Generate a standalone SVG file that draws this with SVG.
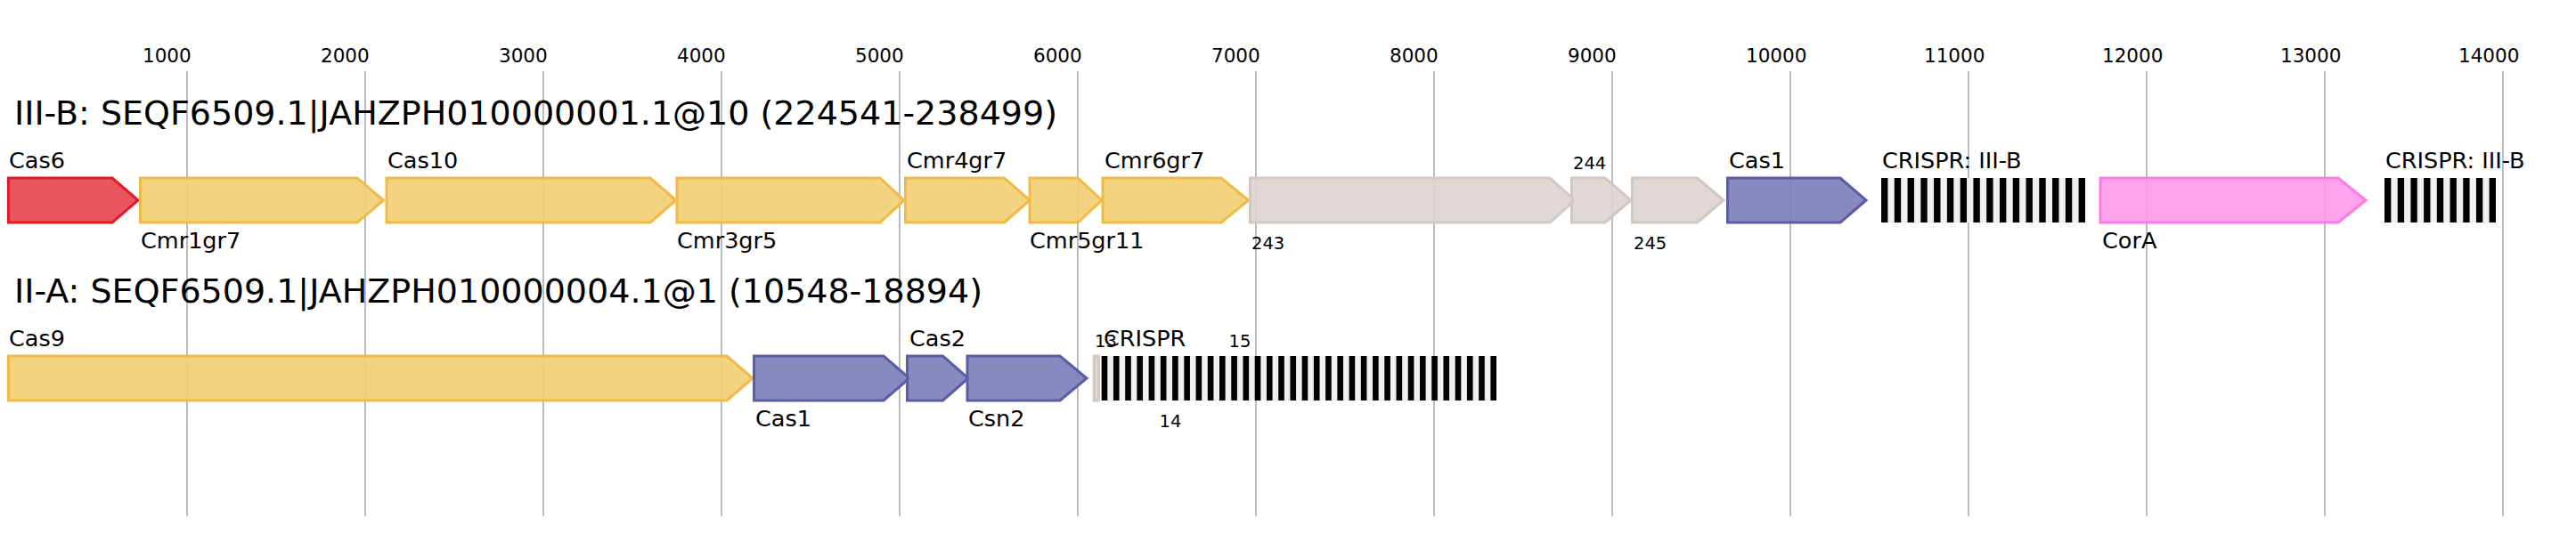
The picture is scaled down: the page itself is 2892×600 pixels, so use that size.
<svg xmlns="http://www.w3.org/2000/svg" width="2892" height="600" viewBox="0 0 2892 600">
<style>
text{font-family:"DejaVu Sans","Liberation Sans",sans-serif;fill:#000}
.tick{font-size:21.5px;fill:#888}
.title{font-size:38px}
.lbl{font-size:25.5px}
.sm{font-size:19.5px}
.grid{stroke:#bdbdbd;stroke-width:2}
.gene{stroke-width:3;stroke-linejoin:miter}
.red{fill:#e6464f;stroke:#e31a2a;fill-opacity:.92}
.yel{fill:#f2cd72;stroke:#efbb44;fill-opacity:.9}
.gry{fill:#dcd4cf;stroke:#d3c7bf;fill-opacity:.9}
.pur{fill:#7b7db8;stroke:#5a5ca6;fill-opacity:.9}
.pnk{fill:#ff99ea;stroke:#ff7ae2;fill-opacity:.9}
.sp{fill:#f0f0f0}
.rp{fill:#000}
</style>
<g id="axis">
<g class="grid">
<line x1="210" y1="80" x2="210" y2="580"/><line x1="410" y1="80" x2="410" y2="580"/><line x1="610" y1="80" x2="610" y2="580"/><line x1="810" y1="80" x2="810" y2="580"/><line x1="1010" y1="80" x2="1010" y2="580"/><line x1="1210" y1="80" x2="1210" y2="580"/><line x1="1410" y1="80" x2="1410" y2="580"/><line x1="1610" y1="80" x2="1610" y2="580"/><line x1="1810" y1="80" x2="1810" y2="580"/><line x1="2010" y1="80" x2="2010" y2="580"/><line x1="2210" y1="80" x2="2210" y2="580"/><line x1="2410" y1="80" x2="2410" y2="580"/><line x1="2610" y1="80" x2="2610" y2="580"/><line x1="2810" y1="80" x2="2810" y2="580"/>
</g>
<g class="tick">
<text x="160" y="70">1000</text><text x="360" y="70">2000</text><text x="560" y="70">3000</text><text x="760" y="70">4000</text><text x="960" y="70">5000</text><text x="1160" y="70">6000</text><text x="1360" y="70">7000</text><text x="1560" y="70">8000</text><text x="1760" y="70">9000</text><text x="1960" y="70">10000</text><text x="2160" y="70">11000</text><text x="2360" y="70">12000</text><text x="2560" y="70">13000</text><text x="2760" y="70">14000</text>
</g>
</g>
<g id="titles">
<text class="title" x="16" y="140">III-B: SEQF6509.1|JAHZPH010000001.1@10 (224541-238499)</text>
<text class="title" x="16" y="340">II-A: SEQF6509.1|JAHZPH010000004.1@1 (10548-18894)</text>
</g>
<g id="connectors"></g>
<g id="row1">
<g id="g-Cas6"><path class="gene red" d="M9.5,200 L126,200 L155,225 L126,250 L9.5,250 Z"/><text class="lbl" x="10" y="189">Cas6</text></g>
<g id="g-Cmr1gr7"><path class="gene yel" d="M157.5,200 L401,200 L430.5,225 L401,250 L157.5,250 Z"/><text class="lbl" x="158" y="279">Cmr1gr7</text></g>
<g id="g-Cas10"><path class="gene yel" d="M434,200 L730,200 L759,225 L730,250 L434,250 Z"/><text class="lbl" x="435" y="189">Cas10</text></g>
<g id="g-Cmr3gr5"><path class="gene yel" d="M760,200 L988,200 L1015,225 L988,250 L760,250 Z"/><text class="lbl" x="760" y="279">Cmr3gr5</text></g>
<g id="g-Cmr4gr7"><path class="gene yel" d="M1016.5,200 L1127.5,200 L1156,225 L1127.5,250 L1016.5,250 Z"/><text class="lbl" x="1018" y="189">Cmr4gr7</text></g>
<g id="g-Cmr5gr11"><path class="gene yel" d="M1156,200 L1210,200 L1237,225 L1210,250 L1156,250 Z"/><text class="lbl" x="1156" y="279">Cmr5gr11</text></g>
<g id="g-Cmr6gr7"><path class="gene yel" d="M1238,200 L1371,200 L1401.5,225 L1371,250 L1238,250 Z"/><text class="lbl" x="1240" y="189">Cmr6gr7</text></g>
<g id="g-243"><path class="gene gry" d="M1403.5,200 L1740,200 L1768,225 L1740,250 L1403.5,250 Z"/><text class="sm" x="1405" y="280">243</text></g>
<g id="g-244"><path class="gene gry" d="M1764.5,200 L1802,200 L1831,225 L1802,250 L1764.5,250 Z"/><text class="sm" x="1766" y="190">244</text></g>
<g id="g-245"><path class="gene gry" d="M1832.5,200 L1905.5,200 L1935,225 L1905.5,250 L1832.5,250 Z"/><text class="sm" x="1834" y="280">245</text></g>
<g id="g-Cas1a"><path class="gene pur" d="M1939.5,200 L2066,200 L2095,225 L2066,250 L1939.5,250 Z"/><text class="lbl" x="1941" y="189">Cas1</text></g>
<g id="g-CRISPR1">
<rect class="sp" x="2112" y="200" width="229" height="50"/>
<g class="rp">
<rect x="2112" y="200" width="7.39" height="50"/><rect x="2126.77" y="200" width="7.39" height="50"/><rect x="2141.55" y="200" width="7.39" height="50"/><rect x="2156.32" y="200" width="7.39" height="50"/><rect x="2171.1" y="200" width="7.39" height="50"/><rect x="2185.87" y="200" width="7.39" height="50"/><rect x="2200.65" y="200" width="7.39" height="50"/><rect x="2215.42" y="200" width="7.39" height="50"/><rect x="2230.19" y="200" width="7.39" height="50"/><rect x="2244.97" y="200" width="7.39" height="50"/><rect x="2259.74" y="200" width="7.39" height="50"/><rect x="2274.52" y="200" width="7.39" height="50"/><rect x="2289.29" y="200" width="7.39" height="50"/><rect x="2304.06" y="200" width="7.39" height="50"/><rect x="2318.84" y="200" width="7.39" height="50"/><rect x="2333.61" y="200" width="7.39" height="50"/>
</g>
<text class="lbl" x="2113" y="189">CRISPR: III-B</text>
</g>
<g id="g-CorA"><path class="gene pnk" d="M2358,200 L2625,200 L2656,225 L2625,250 L2358,250 Z"/><text class="lbl" x="2360" y="279">CorA</text></g>
<g id="g-CRISPR2">
<rect class="sp" x="2677" y="200" width="125" height="50"/>
<g class="rp">
<rect x="2677" y="200" width="7.35" height="50"/><rect x="2691.71" y="200" width="7.35" height="50"/><rect x="2706.41" y="200" width="7.35" height="50"/><rect x="2721.12" y="200" width="7.35" height="50"/><rect x="2735.82" y="200" width="7.35" height="50"/><rect x="2750.53" y="200" width="7.35" height="50"/><rect x="2765.24" y="200" width="7.35" height="50"/><rect x="2779.94" y="200" width="7.35" height="50"/><rect x="2794.65" y="200" width="7.35" height="50"/>
</g>
<text class="lbl" x="2678" y="189">CRISPR: III-B</text>
</g>
</g>
<g id="row2">
<g id="g-Cas9"><path class="gene yel" d="M9.5,400 L816,400 L845,425 L816,450 L9.5,450 Z"/><text class="lbl" x="10" y="389">Cas9</text></g>
<g id="g-Cas1b"><path class="gene pur" d="M846.5,400 L992,400 L1021,425 L992,450 L846.5,450 Z"/><text class="lbl" x="848" y="479">Cas1</text></g>
<g id="g-Cas2"><path class="gene pur" d="M1018.5,400 L1058.5,400 L1087,425 L1058.5,450 L1018.5,450 Z"/><text class="lbl" x="1021" y="389">Cas2</text></g>
<g id="g-Csn2"><path class="gene pur" d="M1086,400 L1190,400 L1220,425 L1190,450 L1086,450 Z"/><text class="lbl" x="1087" y="479">Csn2</text></g>
<g id="g-13"><rect class="gene gry" x="1228.2" y="400" width="5.3" height="50"/><text class="sm" x="1229" y="390">13</text></g>
<g id="g-14"><text class="sm" x="1301.5" y="480">14</text></g>
<g id="g-15"><text class="sm" x="1379.5" y="390">15</text></g>
<g id="g-CRISPR3">
<rect class="sp" x="1236.7" y="400" width="443.3" height="50"/>
<g class="rp">
<rect x="1236.7" y="400" width="6.62" height="50"/><rect x="1249.93" y="400" width="6.62" height="50"/><rect x="1263.17" y="400" width="6.62" height="50"/><rect x="1276.4" y="400" width="6.62" height="50"/><rect x="1289.63" y="400" width="6.62" height="50"/><rect x="1302.87" y="400" width="6.62" height="50"/><rect x="1316.1" y="400" width="6.62" height="50"/><rect x="1329.33" y="400" width="6.62" height="50"/><rect x="1342.56" y="400" width="6.62" height="50"/><rect x="1355.8" y="400" width="6.62" height="50"/><rect x="1369.03" y="400" width="6.62" height="50"/><rect x="1382.26" y="400" width="6.62" height="50"/><rect x="1395.5" y="400" width="6.62" height="50"/><rect x="1408.73" y="400" width="6.62" height="50"/><rect x="1421.96" y="400" width="6.62" height="50"/><rect x="1435.2" y="400" width="6.62" height="50"/><rect x="1448.43" y="400" width="6.62" height="50"/><rect x="1461.66" y="400" width="6.62" height="50"/><rect x="1474.9" y="400" width="6.62" height="50"/><rect x="1488.13" y="400" width="6.62" height="50"/><rect x="1501.36" y="400" width="6.62" height="50"/><rect x="1514.6" y="400" width="6.62" height="50"/><rect x="1527.83" y="400" width="6.62" height="50"/><rect x="1541.06" y="400" width="6.62" height="50"/><rect x="1554.29" y="400" width="6.62" height="50"/><rect x="1567.53" y="400" width="6.62" height="50"/><rect x="1580.76" y="400" width="6.62" height="50"/><rect x="1593.99" y="400" width="6.62" height="50"/><rect x="1607.23" y="400" width="6.62" height="50"/><rect x="1620.46" y="400" width="6.62" height="50"/><rect x="1633.69" y="400" width="6.62" height="50"/><rect x="1646.93" y="400" width="6.62" height="50"/><rect x="1660.16" y="400" width="6.62" height="50"/><rect x="1673.39" y="400" width="6.62" height="50"/>
</g>
<text class="lbl" x="1239" y="389">CRISPR</text>
</g>
</g>
</svg>
